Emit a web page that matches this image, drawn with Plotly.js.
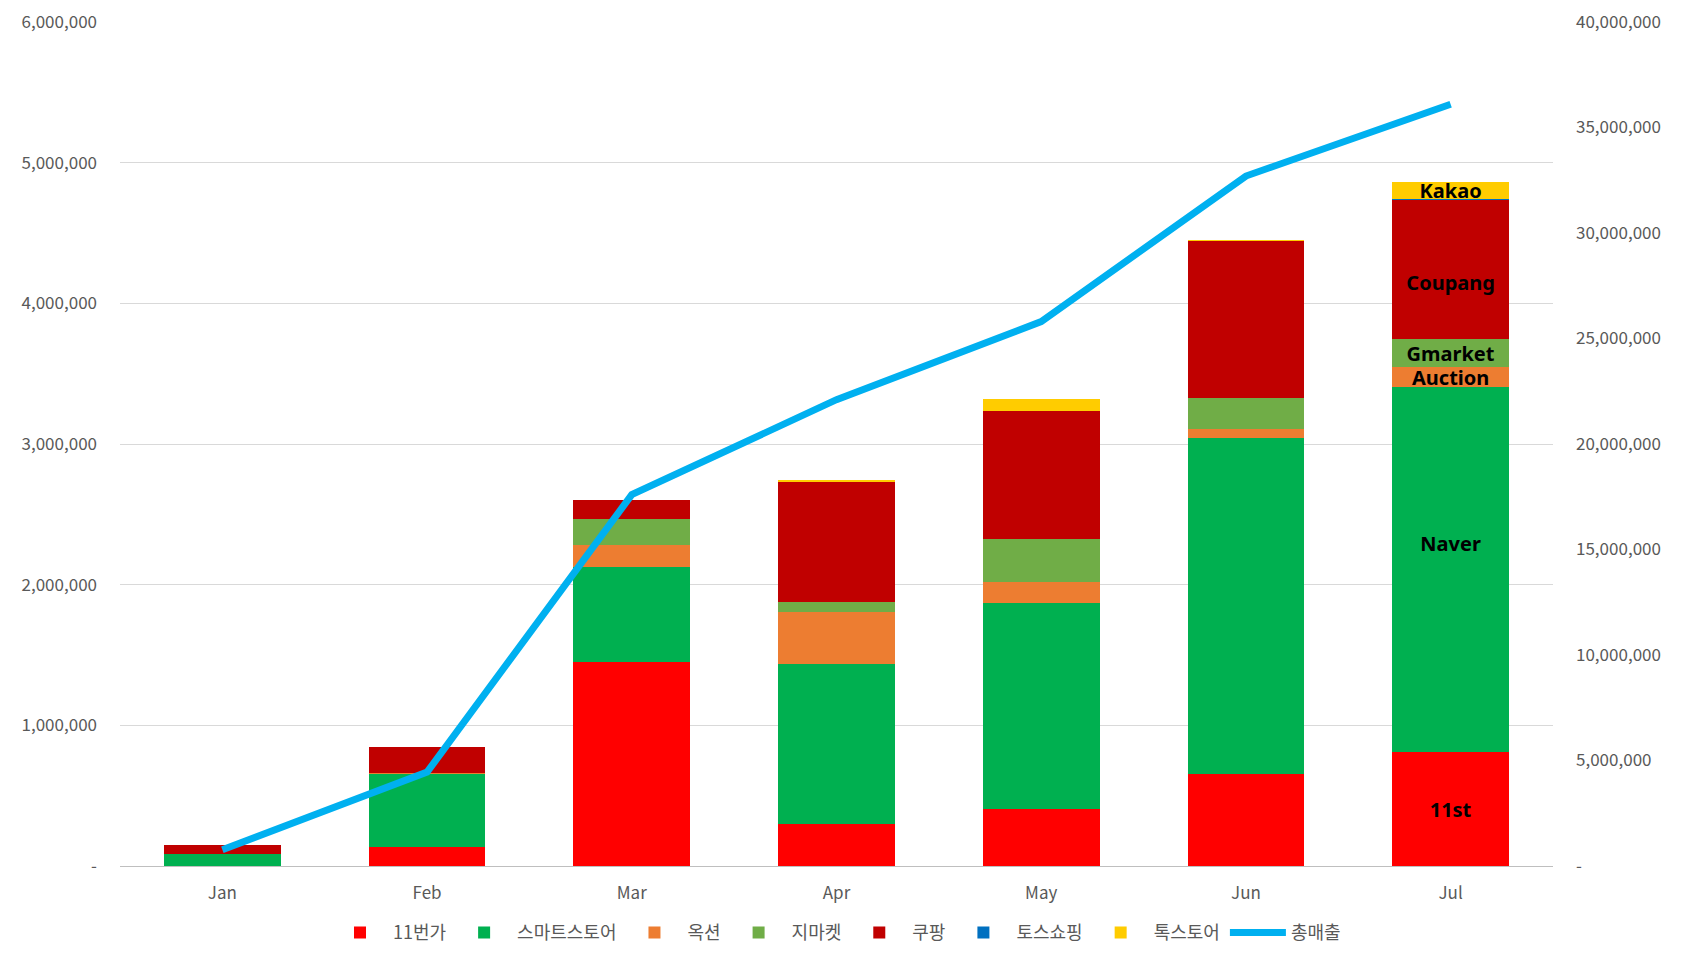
<!DOCTYPE html>
<html>
<head>
<meta charset="utf-8">
<script src="https://cdn.plot.ly/plotly-3.0.1.min.js"></script>
<style>
  body { margin: 0; background: #fff; }
  #chart { width: 1683px; height: 964px; }
</style>
</head>
<body>
<div id="chart"></div>
<script>
// months and per-channel sales
var months = ['Jan', 'Feb', 'Mar', 'Apr', 'May', 'Jun', 'Jul'];

var st11     = [0, 133000, 1447000, 300000, 408000, 656000, 809000];
var smart    = [83000, 523000, 681000, 1135000, 1459000, 2386000, 2597000];
var auction  = [0, 3000, 157000, 373000, 150000, 68000, 139000];
var gmarket  = [0, 0, 185000, 70000, 308000, 215000, 198000];
var coupang  = [64000, 187000, 130000, 852000, 910000, 1120000, 995000];
var toss     = [0, 0, 0, 0, 0, 0, 6000];
var talk     = [0, 2000, 0, 13000, 88000, 5000, 118000];
var total    = [770000, 4450000, 17600000, 22100000, 25800000, 32700000, 36100000];

// labels written on the July bar (blank lines nudge them like the original)
var lbl11     = ['', '', '', '', '', '', '11st'];
var lblSmart  = ['', '', '', '', '', '', 'Naver<br> <br> '];
var lblAuc    = ['', '', '', '', '', '', 'Auction'];
var lblGm     = ['', '', '', '', '', '', 'Gmarket'];
var lblCp     = ['', '', '', '', '', '', ' <br>Coupang'];
var lblTalk   = ['', '', '', '', '', '', 'Kakao'];

// axis ticks
var leftTicks  = [0, 1000000, 2000000, 3000000, 4000000, 5000000, 6000000];
var leftText   = ['-', '1,000,000', '2,000,000', '3,000,000', '4,000,000', '5,000,000', '6,000,000'];
var rightTicks = [0, 5000000, 10000000, 15000000, 20000000, 25000000, 30000000, 35000000, 40000000];
var rightText  = ['-', '5,000,000', '10,000,000', '15,000,000', '20,000,000', '25,000,000', '30,000,000', '35,000,000', '40,000,000'];

var labelFont = { family: 'Noto Sans, sans-serif', size: 20, color: '#000000', weight: 'bold' };

function barTrace(name, vals, color, labels) {
    return {
        type: 'bar',
        name: name,
        x: months,
        y: vals,
        marker: { color: color, line: { width: 0 } },
        text: labels || null,
        textposition: labels ? 'inside' : 'none',
        insidetextanchor: 'middle',
        constraintext: 'none',
        textangle: 0,
        insidetextfont: labelFont,
        hoverinfo: 'skip'
    };
}

var data = [
    barTrace('11번가', st11, '#ff0000', lbl11),
    barTrace('스마트스토어', smart, '#00b050', lblSmart),
    barTrace('옥션', auction, '#ed7d31', lblAuc),
    barTrace('지마켓', gmarket, '#70ad47', lblGm),
    barTrace('쿠팡', coupang, '#c00000', lblCp),
    barTrace('토스쇼핑', toss, '#0070c0', null),
    barTrace('톡스토어', talk, '#ffcc00', lblTalk),
    {
        type: 'scatter',
        mode: 'lines',
        name: '총매출',
        x: months,
        y: total,
        yaxis: 'y2',
        line: { color: '#00b0f0', width: 7 },
        hoverinfo: 'skip'
    }
];

var layout = {
    width: 1683,
    height: 964,
    margin: { l: 120, r: 130, t: 22, b: 98 },
    paper_bgcolor: '#ffffff',
    plot_bgcolor: '#ffffff',
    barmode: 'stack',
    bargap: 0.43,
    font: { family: 'Noto Sans CJK KR, Noto Sans, sans-serif', size: 16, color: '#595959' },
    showlegend: true,
    legend: {
        orientation: 'h',
        x: 0.5, xanchor: 'center',
        y: -0.079, yanchor: 'middle',
        traceorder: 'normal',
        font: { size: 18, color: '#595959' },
        itemwidth: 56
    },
    xaxis: {
        type: 'category',
        showgrid: false,
        showline: true,
        linecolor: '#bfbfbf',
        linewidth: 1,
        ticks: '',
        ticklabelstandoff: 12,
        tickfont: { size: 17, color: '#595959' }
    },
    yaxis: {
        range: [0, 6000000],
        tickvals: leftTicks,
        ticktext: leftText,
        showgrid: true,
        gridcolor: '#d9d9d9',
        gridwidth: 1,
        zeroline: false,
        showline: false,
        ticks: '',
        ticklabelstandoff: 22,
        tickfont: { size: 17, color: '#595959' }
    },
    yaxis2: {
        overlaying: 'y',
        side: 'right',
        range: [0, 40000000],
        tickvals: rightTicks,
        ticktext: rightText,
        showgrid: false,
        zeroline: false,
        showline: false,
        ticks: '',
        ticklabelstandoff: 22,
        tickfont: { size: 17, color: '#595959' }
    }
};

Plotly.newPlot('chart', data, layout, { staticPlot: true, displayModeBar: false });
</script>
</body>
</html>
